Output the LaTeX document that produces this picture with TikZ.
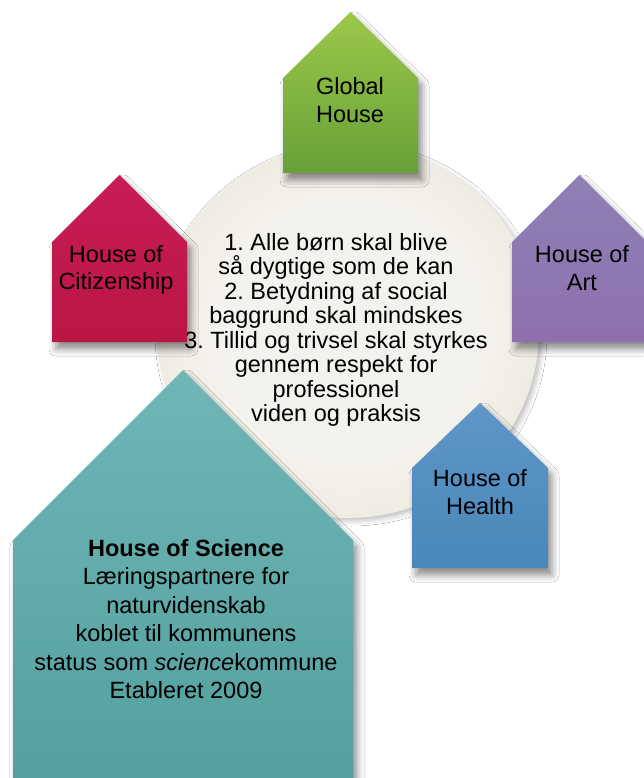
\documentclass[tikz,border=0pt]{standalone}
\usepackage{fontspec}
\setmainfont{Liberation Sans}
\usetikzlibrary{shadows.blur}
\frenchspacing
\definecolor{discin}{RGB}{244,242,236}
\definecolor{discout}{RGB}{220,214,195}
\definecolor{greenA}{RGB}{156,200,74}
\definecolor{greenB}{RGB}{172,207,104}
\definecolor{greenC}{RGB}{104,160,56}
\definecolor{redA}{RGB}{200,28,88}
\definecolor{redB}{RGB}{218,104,152}
\definecolor{redC}{RGB}{186,22,68}
\definecolor{purpA}{RGB}{142,128,182}
\definecolor{purpB}{RGB}{178,168,216}
\definecolor{purpC}{RGB}{142,112,172}
\definecolor{blueA}{RGB}{96,150,200}
\definecolor{blueB}{RGB}{166,200,234}
\definecolor{blueC}{RGB}{72,136,186}
\definecolor{tealA}{RGB}{112,182,182}
\definecolor{tealB}{RGB}{166,210,216}
\definecolor{tealC}{RGB}{82,160,158}
\pgfdeclareradialshading{discshade}{\pgfpoint{0bp}{0bp}}{color(0bp)=(discin); color(18bp)=(discin); color(50bp)=(discout)}
\tikzset{
  housetxt/.style={align=center,inner sep=0pt,font=\fontsize{23.5}{27.5}\selectfont},
  housesh/.style={blur shadow={shadow xshift=4pt,shadow yshift=-7pt,shadow blur radius=7pt,shadow opacity=45}},
}
\begin{document}
\begin{tikzpicture}[x=1pt,y=-1pt]
\useasboundingbox[fill=white] (0,0) rectangle (643,778);
\shade[shading=discshade,blur shadow={shadow xshift=3pt,shadow yshift=-3pt,shadow blur radius=5pt,shadow opacity=25}]
  (348,331) ellipse [x radius=191, y radius=187];
\node[align=center,inner sep=0pt,font=\fontsize{23.5}{24.5}\selectfont] (goals) at (336,330)
  {1. Alle børn skal blive\\så dygtige som de kan\\2. Betydning af social\\baggrund skal mindskes\\3. Tillid og trivsel skal styrkes\\gennem respekt for\\professionel\\viden og praksis};
\shade[housesh,top color=greenA,middle color=greenB,bottom color=greenC]
  (283,173) -- (283,78) -- (350.5,12) -- (418,78) -- (418,173) -- cycle;
\node[housetxt] (global) at (350,100) {Global\\House};
\shade[housesh,top color=redA,middle color=redB,bottom color=redC]
  (52,342) -- (52,242) -- (119.5,175) -- (187,242) -- (187,342) -- cycle;
\node[housetxt] (citizen) at (116,270) {House of\\Citizenship};
\shade[housesh,top color=purpA,middle color=purpB,bottom color=purpC]
  (512,342) -- (512,242) -- (579.5,175) -- (647,242) -- (647,342) -- cycle;
\node[housetxt] (art) at (582,268) {House of\\Art};
\shade[housesh,top color=blueA,middle color=blueB,bottom color=blueC]
  (412,568) -- (412,468) -- (480,403) -- (548,468) -- (548,568) -- cycle;
\node[housetxt] (health) at (480,492) {House of\\Health};
\shade[housesh,top color=tealA,middle color=tealB,bottom color=tealC]
  (13,790) -- (13,540) -- (183,370) -- (353,540) -- (353,790) -- cycle;
\node[housetxt,font=\fontsize{23.5}{28.4}\selectfont] (science) at (186,619)
  {\textbf{House of Science}\\Læringspartnere for\\naturvidenskab\\koblet til kommunens\\status som \textit{science}kommune\\Etableret 2009};
\end{tikzpicture}
\end{document}
